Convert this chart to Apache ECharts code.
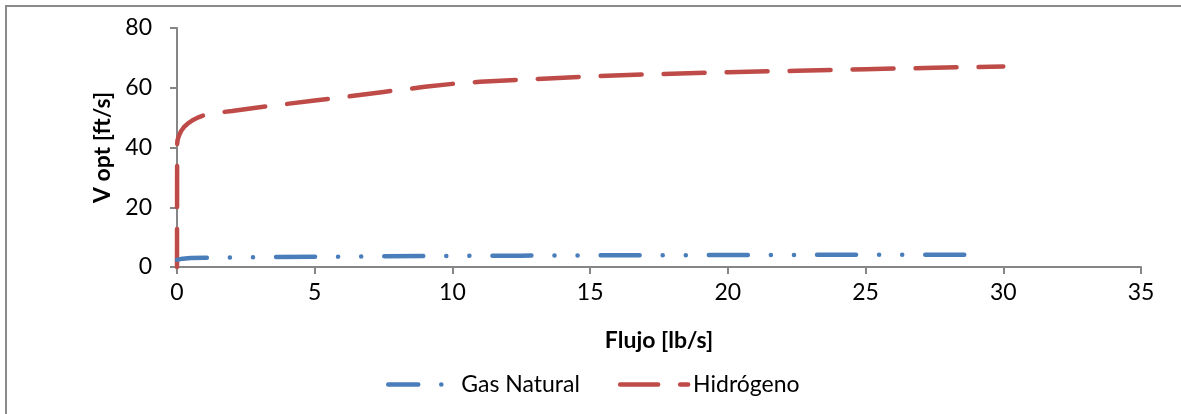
<!DOCTYPE html>
<html>
<head>
<meta charset="utf-8">
<script src="https://cdn.jsdelivr.net/npm/echarts@6/dist/echarts.min.js"></script>
<style>
html,body{margin:0;padding:0;background:#fff;}
#chart{width:1181px;height:414px;}
</style>
</head>
<body>
<div id="chart"></div>
<script>
const seriesNames = ['Gas Natural', 'Hidrógeno'];
const xTicks = {min: 0, max: 35, interval: 5};
const yTicks = {min: 0, max: 80, interval: 20};
const gasNaturalX = [0, 0.05, 0.2, 0.5, 1, 2, 3, 5, 7.5, 10, 12.5, 15, 17.5, 20, 22.5, 25, 27.5, 29.3];
const gasNaturalY = [2.4, 2.6, 2.8, 3.0, 3.1, 3.2, 3.3, 3.4, 3.6, 3.7, 3.8, 3.9, 3.95, 4.0, 4.05, 4.1, 4.1, 4.1];
const hidrogenoX = [0, 0.005, 0.02, 0.08, 0.15, 0.25, 0.4, 0.6, 0.8, 1, 1.3, 2, 3, 4, 5, 6, 7.5, 9, 10, 11, 12.5, 15, 17.5, 20, 22.5, 25, 27.5, 30];
const hidrogenoY = [0, 41, 42.5, 44.2, 45.5, 46.8, 48.1, 49.3, 50.2, 50.9, 51.5, 52.2, 53.5, 54.6, 55.7, 56.8, 58.6, 60.3, 61.3, 62.0, 62.7, 63.8, 64.6, 65.2, 65.7, 66.2, 66.7, 67.1];

const toPairs = (xs, ys) => xs.map((x, i) => [x, ys[i]]);
const font = 'Lato';
const axisGray = '#868686';

const chart = echarts.init(document.getElementById('chart'));
chart.setOption({
  animation: false,
  backgroundColor: '#fff',
  textStyle: {fontFamily: font},
  grid: {left: 177, right: 40, top: 28, bottom: 147, containLabel: false},
  graphic: [{
    type: 'rect', silent: true, z: -1,
    shape: {x: 6, y: 6, width: 1300, height: 600},
    style: {fill: 'none', stroke: '#8a8a8a', lineWidth: 2}
  }],
  legend: {
    left: 381, top: 368,
    itemWidth: 68, itemHeight: 24, itemGap: 38,
    itemStyle: {opacity: 0},
    lineStyle: {width: 4.5, cap: 'round', type: 'inherit'},
    textStyle: {fontFamily: font, fontSize: 23, color: '#000'},
    data: seriesNames
  },
  xAxis: {
    type: 'value', min: xTicks.min, max: xTicks.max, interval: xTicks.interval,
    name: 'Flujo [lb/s]', nameLocation: 'middle', nameGap: 62,
    nameTextStyle: {fontFamily: font, fontSize: 23, fontWeight: 'bold', color: '#000'},
    axisLine: {show: true, lineStyle: {color: axisGray, width: 2}},
    axisTick: {show: true, length: 7, lineStyle: {color: axisGray, width: 2}},
    axisLabel: {fontFamily: font, fontSize: 23, color: '#000', margin: 14},
    splitLine: {show: false}
  },
  yAxis: {
    type: 'value', min: yTicks.min, max: yTicks.max, interval: yTicks.interval,
    name: 'V opt [ft/s]', nameLocation: 'middle', nameGap: 60, nameRotate: 90,
    nameTextStyle: {fontFamily: font, fontSize: 23, fontWeight: 'bold', color: '#000'},
    axisLine: {show: true, lineStyle: {color: axisGray, width: 2}},
    axisTick: {show: true, length: 7, lineStyle: {color: axisGray, width: 2}},
    axisLabel: {fontFamily: font, fontSize: 23, color: '#000', margin: 25},
    splitLine: {show: false}
  },
  series: [
    {
      name: seriesNames[0], type: 'line', symbol: 'none', z: 3,
      data: toPairs(gasNaturalX, gasNaturalY),
      color: '#4a7ebb',
      lineStyle: {color: '#4a7ebb', width: 4.5, type: [39, 23, 0.1, 23, 0.1, 23], dashOffset: 9, cap: 'round', join: 'round'}
    },
    {
      name: seriesNames[1], type: 'line', symbol: 'none', z: 2,
      data: toPairs(hidrogenoX, hidrogenoY),
      color: '#be4b48',
      lineStyle: {color: '#be4b48', width: 4.5, type: [41, 22], dashOffset: 3, cap: 'round', join: 'round'}
    }
  ]
});
</script>
</body>
</html>
